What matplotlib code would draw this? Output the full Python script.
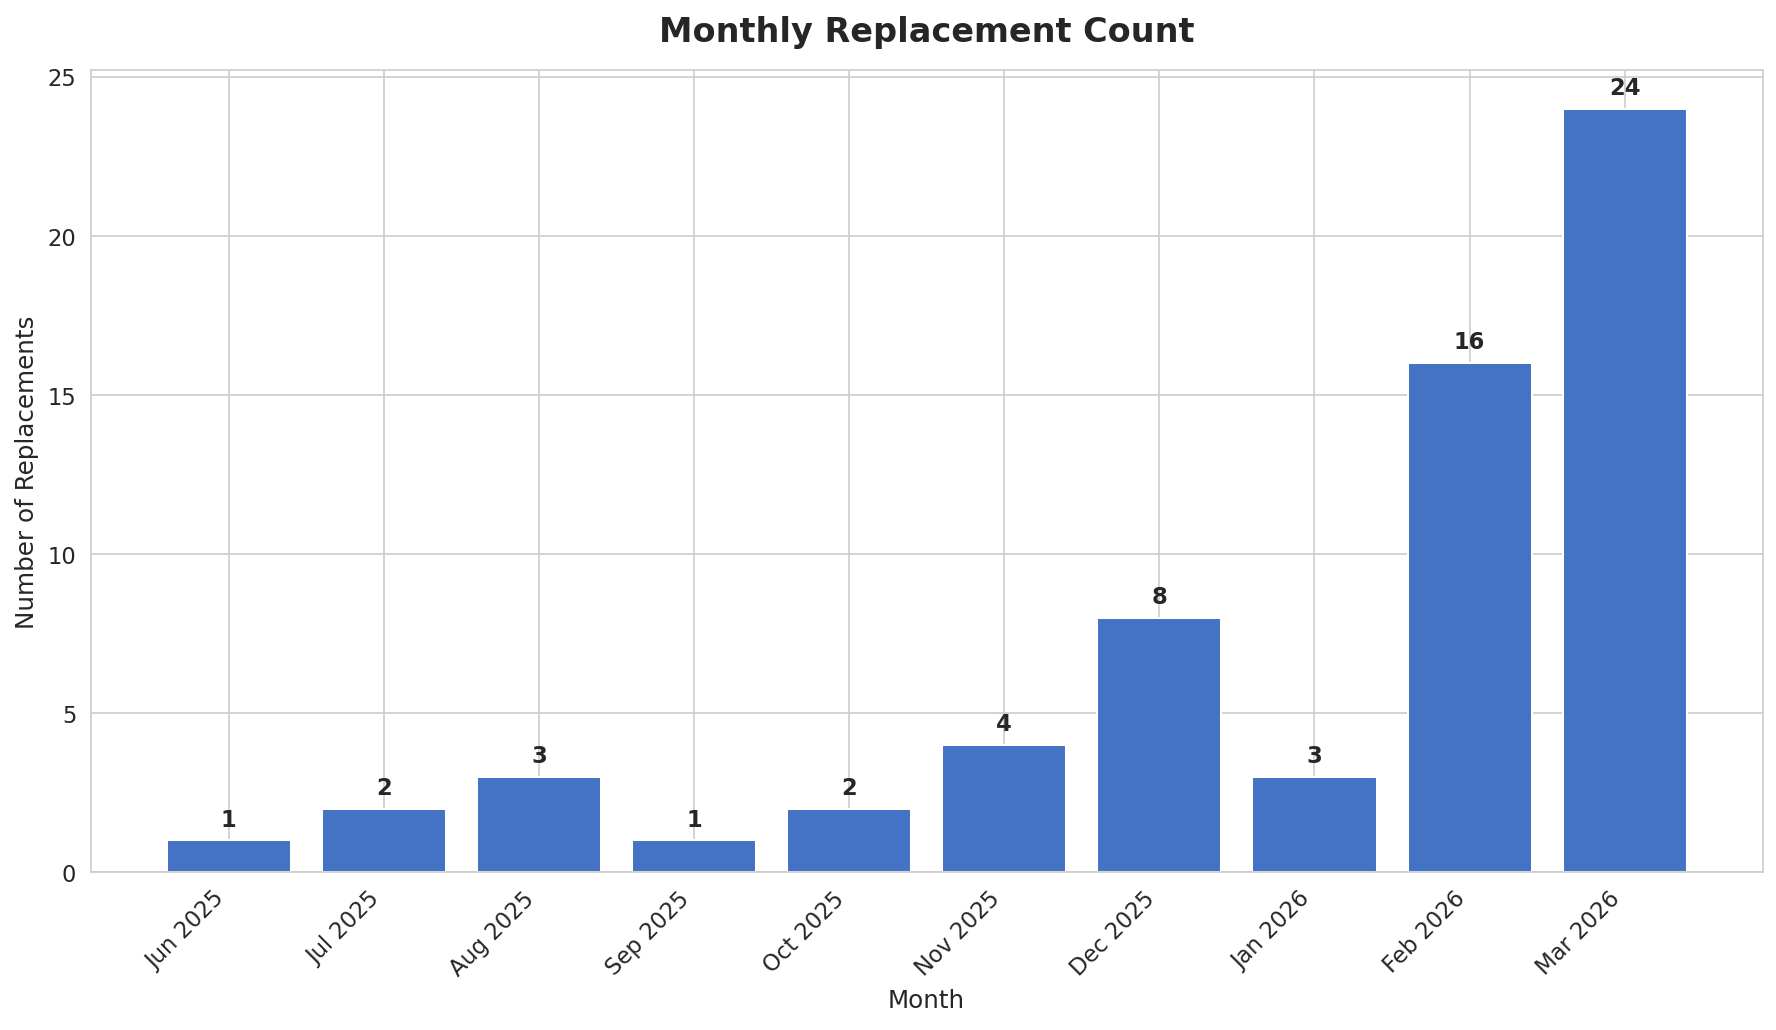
import matplotlib
matplotlib.use("Agg")
import matplotlib.pyplot as plt
import seaborn as sns

months = ["Jun 2025", "Jul 2025", "Aug 2025", "Sep 2025", "Oct 2025",
          "Nov 2025", "Dec 2025", "Jan 2026", "Feb 2026", "Mar 2026"]
counts = [1, 2, 3, 1, 2, 4, 8, 3, 16, 24]

sns.set_style("whitegrid")
plt.rcParams['font.family'] = ['DejaVu Sans']

fig, ax = plt.subplots(figsize=(12, 6.96), dpi=148.08)
bars = ax.bar(months, counts, color="#4472C4")
for b, v in zip(bars, counts):
    ax.text(b.get_x() + b.get_width() / 2, b.get_height() + 0.3, str(v),
            ha="center", va="bottom", fontsize=11, fontweight="bold", color="#262626")
ax.set_title("Monthly Replacement Count", fontsize=16.3, fontweight="bold", pad=14)
ax.set_xlabel("Month", fontsize=12)
ax.set_ylabel("Number of Replacements", fontsize=12)
ax.set_ylim(0, 25.2)
plt.setp(ax.get_xticklabels(), rotation=45, ha="right")
ax.tick_params(axis="both", labelsize=11)
fig.subplots_adjust(left=0.051, right=0.992, top=0.931, bottom=0.153)
fig.savefig("out.png")
